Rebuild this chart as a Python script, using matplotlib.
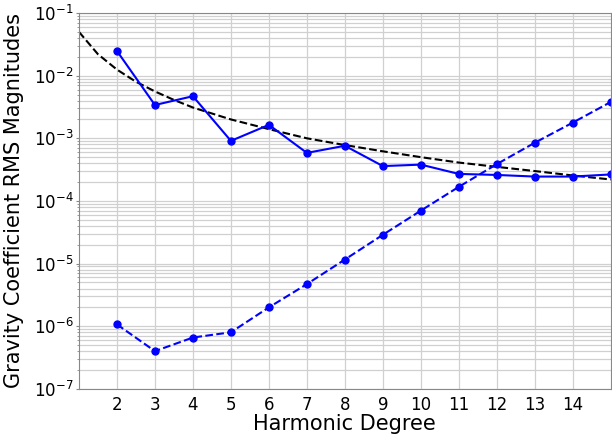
import matplotlib
matplotlib.use('Agg')
import matplotlib.pyplot as plt

# Harmonic degrees
degrees = [2, 3, 4, 5, 6, 7, 8, 9, 10, 11, 12, 13, 14, 15]

# Solid blue series (RMS magnitudes)
rms_solid = [2.48e-2, 3.4e-3, 4.7e-3, 9.1e-4, 1.64e-3, 5.85e-4, 7.6e-4,
             3.6e-4, 3.8e-4, 2.7e-4, 2.6e-4, 2.45e-4, 2.45e-4, 2.65e-4]

# Dashed blue series
rms_dashed = [1.07e-6, 4.0e-7, 6.6e-7, 8.0e-7, 2.0e-6, 4.7e-6, 1.16e-5,
              2.88e-5, 7.0e-5, 1.68e-4, 3.87e-4, 8.5e-4, 1.78e-3, 3.8e-3]

# Black dashed reference curve
ref_degrees = [1, 1.5, 2, 2.5, 3, 3.5, 4, 5, 6, 7, 8, 9, 10, 11, 12, 13, 14, 15]
ref_values = [5.0e-2, 2.2e-2, 1.25e-2, 8.0e-3, 5.6e-3, 4.1e-3, 3.1e-3, 2.0e-3,
              1.4e-3, 1.0e-3, 7.8e-4, 6.2e-4, 5.0e-4, 4.1e-4, 3.5e-4, 3.0e-4,
              2.55e-4, 2.2e-4]

fig = plt.figure(figsize=(6.12, 4.34), dpi=100)
ax = fig.add_axes([0.129, 0.104, 0.869, 0.866])

ax.plot(ref_degrees, ref_values, 'k--', linewidth=1.5)
ax.plot(degrees, rms_solid, 'b-o', linewidth=1.5, markersize=5, clip_on=False)
ax.plot(degrees, rms_dashed, 'b--o', linewidth=1.5, markersize=5, clip_on=False)

ax.set_yscale('log')
ax.set_ylim(1e-7, 1e-1)
ax.set_xlim(1, 15)
ax.set_xticks(range(2, 15))

ax.grid(True, which='major', color='#d0d0d0', linewidth=0.9)
ax.grid(True, which='minor', axis='y', color='#d0d0d0', linewidth=0.9)
ax.set_axisbelow(True)

ax.tick_params(axis='x', which='major', labelsize=12, length=0, pad=5)
ax.tick_params(axis='y', which='major', labelsize=12, length=2, pad=2,
               color='#888888')
ax.tick_params(axis='y', which='minor', length=1.5, color='#888888')
for s in ax.spines.values():
    s.set_color('#888888')

ax.set_xlabel('Harmonic Degree', fontsize=15, labelpad=0)
ax.set_ylabel('Gravity Coefficient RMS Magnitudes', fontsize=15, labelpad=7)

fig.savefig('out.png', dpi=100)
